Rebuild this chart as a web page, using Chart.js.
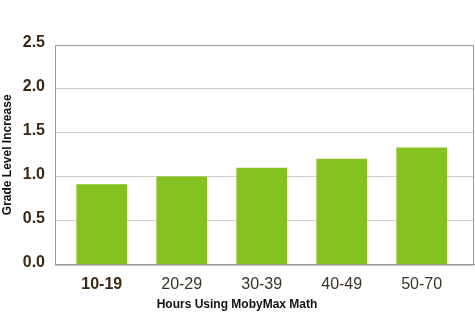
<!DOCTYPE html>
<html>
<head>
<meta charset="utf-8">
<script src="https://cdn.jsdelivr.net/npm/chart.js@4"></script>
<style>
  html, body { margin: 0; padding: 0; background: #fff; }
  #wrap { width: 475px; height: 312px; }
</style>
</head>
<body>
<div id="wrap"><canvas id="chart"></canvas></div>
<script>
const hourBands = ["10-19", "20-29", "30-39", "40-49", "50-70"];
const gradeIncrease = [0.91, 1.0, 1.1, 1.2, 1.33];
const yTicks = [0, 0.5, 1.0, 1.5, 2.0, 2.5];

const FONT = "'Liberation Sans', Arial, sans-serif";

// frame round the plot area (top and right sides)
const frame = {
    id: "frame",
    afterDraw(chart) {
        const a = chart.chartArea;
        const ctx = chart.ctx;
        ctx.save();
        ctx.strokeStyle = "#999999";
        ctx.lineWidth = 1;
        ctx.strokeRect(a.left + 0.5, a.top + 0.5, a.right - a.left - 1, a.bottom - a.top);
        ctx.restore();
    }
};

new Chart(document.getElementById("chart"), {
    type: "bar",
    data: {
        datasets: [{
            data: gradeIncrease.map((v, i) => ({ x: i, y: v })),
            backgroundColor: "#86c21f",
            barThickness: 50,
            borderWidth: 0
        }]
    },
    options: {
        responsive: true,
        maintainAspectRatio: false,
        animation: false,
        layout: { padding: { top: 45, right: 1 } },
        plugins: {
            legend: { display: false },
            tooltip: { enabled: false },
            title: {
                display: true,
                position: "bottom",
                text: "Hours Using MobyMax Math",
                color: "#111111",
                padding: 0,
                font: { family: FONT, size: 12, weight: "bold" }
            }
        },
        scales: {
            x: {
                type: "linear",
                offset: false,
                min: -0.584,
                max: 4.654,
                afterFit: (s) => { s.height = 33; },
                grid: { display: false },
                border: { color: "#999999" },
                ticks: {
                    stepSize: 1,
                    includeBounds: false,
                    padding: 2,
                    autoSkip: false,
                    maxRotation: 0,
                    callback: (v) => Number.isInteger(v) ? hourBands[v] : "",
                    color: (c) => c.tick && c.tick.value === 0 ? "#3b2a12" : "#3a3328",
                    font: (c) => ({
                        family: FONT,
                        size: 16,
                        weight: c.tick && c.tick.value === 0 ? "bold" : "normal"
                    })
                }
            },
            y: {
                min: 0,
                max: 2.5,
                afterFit: (s) => { s.width = 55; },
                afterBuildTicks: (s) => { s.ticks = yTicks.map(v => ({ value: v })); },
                grid: { color: "#cccccc", drawTicks: false },
                border: { color: "#999999" },
                ticks: {
                    padding: 10,
                    labelOffset: -2,
                    color: "#3b2a12",
                    callback: (v) => v.toFixed(1),
                    font: { family: FONT, size: 16, weight: "bold" }
                },
                title: {
                    display: true,
                    text: "Grade Level Increase",
                    color: "#111111",
                    padding: 0,
                    font: { family: FONT, size: 12, weight: "bold" }
                }
            }
        }
    },
    plugins: [frame]
});
</script>
</body>
</html>
